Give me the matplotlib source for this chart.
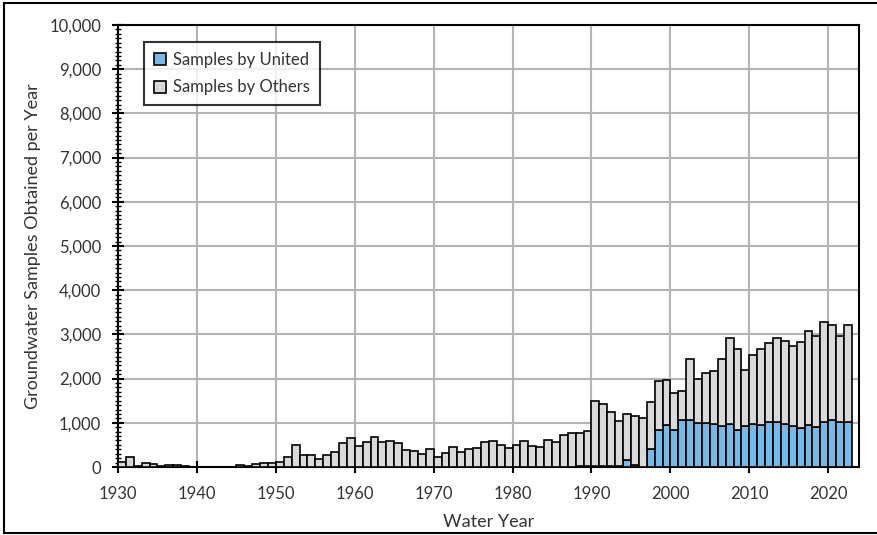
import matplotlib
matplotlib.use("Agg")
import matplotlib.pyplot as plt
from matplotlib.ticker import MultipleLocator, FuncFormatter
from matplotlib.lines import Line2D
import numpy as np

plt.rcParams['font.family'] = ['Lato', 'DejaVu Sans']

years = list(range(1930, 2023))

total = [
    120, 219, 20, 90, 68, 20, 50, 50, 20, 8,          # 1930-1939
    5, 5, 5, 5, 8, 45, 20, 68, 98, 98,                # 1940-1949
    120, 219, 505, 279, 279, 189, 279, 340, 550, 649,  # 1950-1959
    483, 566, 671, 566, 581, 535, 392, 370, 294, 415,  # 1960-1969
    234, 309, 460, 347, 400, 437, 558, 596, 498, 437,  # 1970-1979
    498, 588, 475, 460, 611, 573, 724, 762, 762, 814,  # 1980-1989
    1494, 1434, 1245, 1034, 1208, 1147, 1117, 1472, 1955, 1970,  # 1990-1999
    1675, 1728, 2445, 1992, 2121, 2174, 2445, 2921, 2664, 2189,  # 2000-2009
    2536, 2664, 2815, 2921, 2860, 2747, 2838, 3079, 2966, 3275,  # 2010-2019
    3215, 2966, 3208,                                   # 2020-2022
]

united = [
    0, 0, 0, 0, 0, 0, 0, 0, 0, 0,
    0, 0, 0, 0, 0, 0, 0, 0, 0, 0,
    0, 0, 0, 0, 0, 0, 0, 0, 0, 0,
    0, 0, 0, 0, 0, 0, 0, 0, 0, 0,
    0, 0, 0, 0, 0, 0, 0, 0, 0, 0,
    0, 0, 0, 0, 0, 0, 0, 10, 15, 20,
    25, 25, 20, 15, 166, 40, 5, 415, 830, 943,
    830, 1057, 1057, 996, 1004, 966, 928, 966, 830, 936,
    966, 951, 1011, 1026, 981, 921, 883, 951, 906, 1011,
    1072, 1011, 1026,
]

others = [t - u for t, u in zip(total, united)]

fig = plt.figure(figsize=(8.77, 5.35), dpi=100)
ax = fig.add_axes([118/877, 1 - 467/535, (859-118)/877, (467-25)/535])

blue = '#7cb7e3'
gray = '#d9d9d9'
ax.bar(years, united, width=1.0, align='edge', color=blue, edgecolor='black', linewidth=1.2, zorder=3)
ax.bar(years, others, width=1.0, align='edge', bottom=united, color=gray, edgecolor='black', linewidth=1.2, zorder=3)

ax.set_xlim(1930, 2023.9)
ax.set_ylim(0, 10000)
ax.xaxis.set_major_locator(MultipleLocator(10))
ax.yaxis.set_major_locator(MultipleLocator(1000))
ax.yaxis.set_minor_locator(MultipleLocator(100))
ax.yaxis.set_major_formatter(FuncFormatter(lambda v, p: f"{int(v):,}"))
ax.grid(True, which='major', color='#b4b4b4', linewidth=1.5, zorder=0)
ax.set_axisbelow(True)

for s in ax.spines.values():
    s.set_linewidth(1.5)
    s.set_color('black')

ax.tick_params(axis='both', which='major', direction='inout', length=8, width=1.5, labelsize=12, colors='black', labelcolor='#333333')
ax.tick_params(axis='y', which='minor', direction='inout', length=4, width=1)
ax.tick_params(axis='x', which='major', pad=10)
ax.tick_params(axis='y', which='major', pad=8)

ax.set_xlabel('Water Year', fontsize=13, color='#333333', labelpad=8)
ax.set_ylabel('Groundwater Samples Obtained per Year', fontsize=13, color='#333333', labelpad=6)

handles = [
    plt.Rectangle((0, 0), 1, 1, facecolor=blue, edgecolor='black', linewidth=1.2),
    plt.Rectangle((0, 0), 1, 1, facecolor=gray, edgecolor='black', linewidth=1.2),
]
leg = ax.legend(handles, ['Samples by United', 'Samples by Others'], loc='upper left',
                bbox_to_anchor=(0.035, 0.962), fontsize=12, frameon=True, fancybox=False,
                edgecolor='black', handlelength=0.75, handleheight=0.75, handletextpad=0.4,
                borderpad=0.6, labelspacing=0.7, borderaxespad=0)
leg.get_frame().set_linewidth(1.5)
leg.set_zorder(5)
for t in leg.get_texts():
    t.set_color('#333333')

# figure border
fig.add_artist(Line2D([4/877, 4/877], [1 - 533/535, 1 - 3/535], transform=fig.transFigure, color='black', linewidth=1.5))
fig.add_artist(Line2D([4/877, 1], [1 - 3/535, 1 - 3/535], transform=fig.transFigure, color='black', linewidth=1.5))
fig.add_artist(Line2D([4/877, 1], [1 - 533/535, 1 - 533/535], transform=fig.transFigure, color='black', linewidth=1.5))

fig.savefig('out.png', dpi=100)
